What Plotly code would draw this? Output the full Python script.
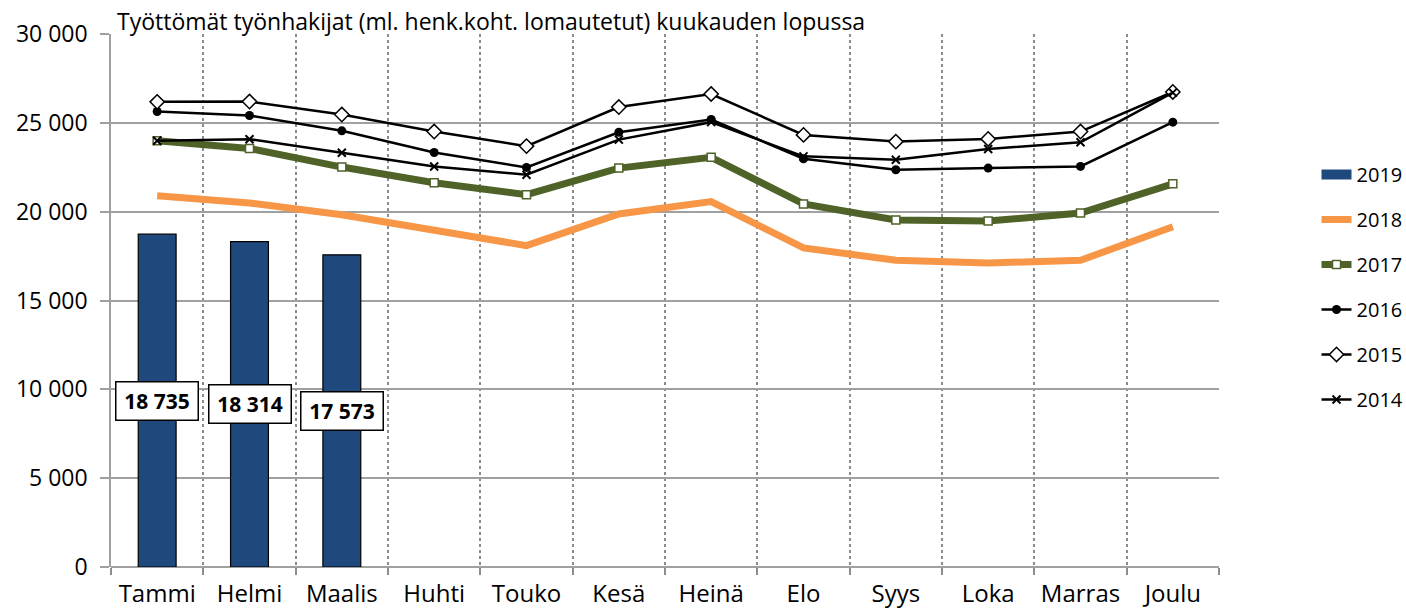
import plotly.graph_objects as go

months = ["Tammi", "Helmi", "Maalis", "Huhti", "Touko", "Kesä", "Heinä",
          "Elo", "Syys", "Loka", "Marras", "Joulu"]
y2019 = [18735, 18314, 17573]
y2018 = [20900, 20490, 19830, 18930, 18090, 19867, 20566, 17961, 17263, 17113, 17263, 19150]
y2017 = [23990, 23560, 22510, 21630, 20955, 22453, 23056, 20433, 19528, 19471, 19924, 21566]
y2016 = [25635, 25410, 24550, 23330, 22490, 24472, 25189, 22981, 22358, 22453, 22547, 25038]
y2015 = [26180, 26200, 25466, 24510, 23690, 25887, 26623, 24321, 23943, 24094, 24509, 26736]
y2014 = [23990, 24080, 23315, 22545, 22080, 24057, 25038, 23113, 22924, 23528, 23906, 26700]
ytick_vals = [0, 5000, 10000, 15000, 20000, 25000, 30000]
title_text = "Työttömät työnhakijat (ml. henk.koht. lomautetut) kuukauden lopussa"

FONT = "Open Sans"
BLUE = "#1F497D"
W, H = 1406, 616
xi = list(range(len(months)))

fig = go.Figure()
fig.add_trace(go.Bar(x=xi[:len(y2019)], y=y2019, name="2019", width=0.41,
                     marker=dict(color=BLUE, line=dict(color="black", width=1.2)),
                     showlegend=False))
# legend entry for 2019 drawn as a wide block
fig.add_trace(go.Scatter(x=[None], y=[None], name="2019", mode="lines",
                         line=dict(color=BLUE, width=12), legendgroup="a"))
fig.add_trace(go.Scatter(x=xi, y=y2018, name="2018", mode="lines",
                         line=dict(color="#F79646", width=7), legendgroup="b"))
fig.add_trace(go.Scatter(x=xi, y=y2017, name="2017", mode="lines+markers",
                         line=dict(color="#4F6228", width=7),
                         marker=dict(symbol="square", size=8, color="white",
                                     line=dict(color="#4F6228", width=1.5)),
                         legendgroup="c"))
fig.add_trace(go.Scatter(x=xi, y=y2016, name="2016", mode="lines+markers",
                         line=dict(color="black", width=2.5),
                         marker=dict(symbol="circle", size=9, color="black"),
                         legendgroup="d"))
fig.add_trace(go.Scatter(x=xi, y=y2015, name="2015", mode="lines+markers",
                         line=dict(color="black", width=2.5),
                         marker=dict(symbol="diamond", size=11, color="white",
                                     line=dict(color="black", width=1.5)),
                         legendgroup="e"))
fig.add_trace(go.Scatter(x=xi, y=y2014, name="2014", mode="lines+markers",
                         line=dict(color="black", width=2.5),
                         marker=dict(symbol="x-thin", size=8, color="black",
                                     line=dict(color="black", width=2)),
                         legendgroup="f"))

for i, v in enumerate(y2019):
    fig.add_annotation(x=i, y=v / 2, text="<b>" + f"{v:,}".replace(",", " ") + "</b>",
                       showarrow=False, bgcolor="white", bordercolor="black",
                       borderwidth=1.5, borderpad=6, width=69, height=25,
                       font=dict(family=FONT, size=21, color="black"))

fig.update_layout(
    width=W, height=H,
    margin=dict(l=111, r=186.5, t=34, b=49, autoexpand=False),
    paper_bgcolor="white", plot_bgcolor="white",
    separators=", ",
    showlegend=True,
    barmode="overlay",
    title=dict(text=title_text, x=117 / W, xanchor="left", xref="container",
               y=1 - 22 / H, yanchor="middle", yref="container",
               font=dict(family=FONT, size=23, color="black")),
    legend=dict(x=1.088, xanchor="left", y=0.773, yanchor="top",
                font=dict(family=FONT, size=20, color="black"),
                tracegroupgap=16, bgcolor="rgba(0,0,0,0)"),
    xaxis=dict(range=[-0.5, 11.5], tickmode="array", tickvals=xi, ticktext=months,
               showgrid=False, ticks="", showline=False, zeroline=False,
               automargin=False,
               tickfont=dict(family=FONT, size=24, color="black"),
               ticklabelstandoff=10,
               minor=dict(tickmode="array",
                          tickvals=[k - 0.5 for k in range(len(months) + 1)],
                          showgrid=True, griddash="dot", gridcolor="#8C8C8C",
                          gridwidth=1.5, ticks="outside", ticklen=7,
                          tickcolor="#8C8C8C", tickwidth=1.5)),
    yaxis=dict(range=[0, 30000], tickmode="array", tickvals=ytick_vals,
               tickformat=",d", showgrid=True, gridcolor="#A0A0A0", gridwidth=1.5,
               ticks="outside", ticklen=9, tickcolor="#A0A0A0", tickwidth=1.5,
               showline=True, linecolor="#A0A0A0", linewidth=1.5,
               zeroline=True, zerolinecolor="#A0A0A0", zerolinewidth=1.5,
               automargin=False,
               tickfont=dict(family=FONT, size=23, color="black"),
               ticklabelstandoff=8),
)
fig.write_html("out.html",
               config={"displayModeBar": False},
               post_script="document.body.style.margin='0';"
                           "document.body.style.overflow='hidden';")
